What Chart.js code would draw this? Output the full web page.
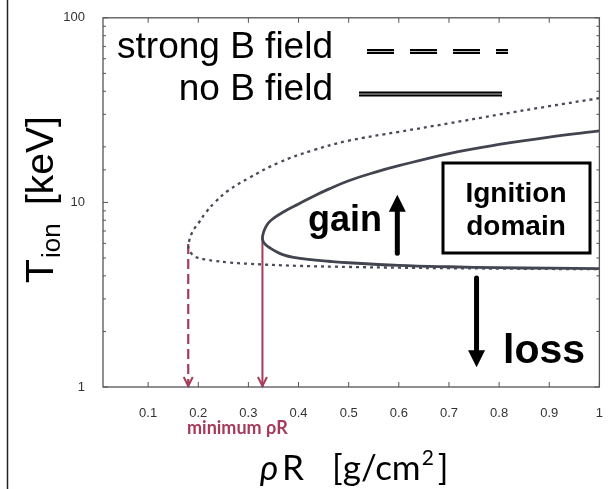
<!DOCTYPE html>
<html>
<head>
<meta charset="utf-8">
<script src="https://cdn.jsdelivr.net/npm/chart.js@4"></script>
<style>
  html, body { margin: 0; padding: 0; background: #fff; }
  canvas { display: block; }
</style>
</head>
<body>
<canvas id="chart" width="614" height="489"></canvas>
<script>
// x axis ticks (rhoR, g/cm2)
var xTicks = [0.1, 0.2, 0.3, 0.4, 0.5, 0.6, 0.7, 0.8, 0.9, 1]

// strong B field ignition boundary (dotted) - upper / lower branch
var strongUpperX = [0.18, 0.182, 0.186, 0.192, 0.20, 0.215, 0.233, 0.26, 0.30, 0.36, 0.43, 0.5, 0.6, 0.7, 0.8, 0.9, 1.0]
var strongUpperY = [5.78, 6.2, 6.7, 7.2, 7.7, 8.8, 10.0, 11.6, 13.5, 16.4, 19.2, 21.6, 24.1, 26.8, 29.9, 33.2, 36.7]
var strongLowerX = [0.18, 0.182, 0.186, 0.192, 0.20, 0.215, 0.233, 0.26, 0.30, 0.40, 0.5, 0.6, 0.7, 0.8, 0.9, 1.0]
var strongLowerY = [5.78, 5.5, 5.3, 5.12, 5.0, 4.9, 4.82, 4.73, 4.65, 4.53, 4.47, 4.43, 4.40, 4.38, 4.36, 4.35]

// no B field ignition boundary (solid)
var noBUpperX = [0.328, 0.330, 0.334, 0.340, 0.35, 0.36, 0.375, 0.40, 0.43, 0.46, 0.50, 0.55, 0.60, 0.70, 0.80, 0.90, 1.00]
var noBUpperY = [6.42, 6.85, 7.3, 7.75, 8.2, 8.55, 9.05, 9.8, 10.8, 11.8, 13.1, 14.5, 15.8, 18.4, 20.6, 22.6, 24.4]
var noBLowerX = [0.328, 0.330, 0.335, 0.343, 0.355, 0.37, 0.39, 0.42, 0.46, 0.50, 0.60, 0.70, 0.80, 0.90, 1.00]
var noBLowerY = [6.42, 6.1, 5.88, 5.67, 5.42, 5.2, 5.04, 4.91, 4.8, 4.71, 4.56, 4.48, 4.43, 4.40, 4.38]

// minimum rhoR markers (strong B, no B) and the nose temperatures
var minRhoR = [0.18, 0.328]
var noseT = [5.96, 6.42]

// gain / loss arrows
var gainArrowX = 0.597
var gainArrowY = [5.3, 11.0]
var lossArrowX = 0.755
var lossArrowY = [3.89, 1.28]

var red = '#a63a5a'
var curveColor = '#42454f'

function closedCurve(ux, uy, lx, ly) {
  var pts = []
  for (var i = ux.length - 1; i >= 0; i--) pts.push({ x: ux[i], y: uy[i] })
  for (var j = 1; j < lx.length; j++) pts.push({ x: lx[j], y: ly[j] })
  return pts
}

function line(ctx, x1, y1, x2, y2) {
  ctx.beginPath(); ctx.moveTo(x1, y1); ctx.lineTo(x2, y2); ctx.stroke()
}

var extras = {
  id: 'extras',
  afterDatasetsDraw: function (chart) {
    var c = chart.ctx, a = chart.chartArea, xs = chart.scales.x, ys = chart.scales.y
    c.save()

    // red open arrow heads at the bottom
    c.strokeStyle = red; c.lineWidth = 2; c.setLineDash([])
    minRhoR.forEach(function (v) {
      var px = xs.getPixelForValue(v), py = ys.getPixelForValue(1)
      c.beginPath(); c.moveTo(px - 4.5, py - 10); c.lineTo(px, py - 1); c.lineTo(px + 4.5, py - 10); c.stroke()
    })

    // black gain / loss arrows
    function bigArrow(xv, yv) {
      var px = xs.getPixelForValue(xv)
      var y0 = ys.getPixelForValue(yv[0]), y1 = ys.getPixelForValue(yv[1])
      var dir = y1 < y0 ? -1 : 1
      c.strokeStyle = '#000'; c.fillStyle = '#000'; c.lineWidth = 5; c.lineCap = 'round'
      line(c, px, y0, px, y1 - dir * 14)
      c.beginPath(); c.moveTo(px - 8.5, y1 - dir * 17); c.lineTo(px, y1); c.lineTo(px + 8.5, y1 - dir * 17); c.closePath(); c.fill()
      c.lineCap = 'butt'
    }
    bigArrow(gainArrowX, gainArrowY)
    bigArrow(lossArrowX, lossArrowY)

    // annotation texts
    c.fillStyle = '#000'; c.textBaseline = 'alphabetic'
    c.font = 'bold 36px "Liberation Sans", Arial, sans-serif'; c.textAlign = 'left'
    c.fillText('gain', 308, 231)
    c.font = 'bold 41px "Liberation Sans", Arial, sans-serif'
    c.fillText('loss', 503, 363)
    c.lineWidth = 3; c.strokeStyle = '#000'
    c.strokeRect(443, 163, 147, 90)
    c.font = 'bold 28px "Liberation Sans", Arial, sans-serif'; c.textAlign = 'center'
    c.fillText('Ignition', 516, 202)
    c.fillText('domain', 516, 235)

    // legend
    c.font = '37px "Liberation Sans", Arial, sans-serif'; c.textAlign = 'right'
    c.fillText('strong B field', 333, 58)
    c.fillText('no B field', 333, 100)
    c.lineWidth = 5; c.strokeStyle = '#000'; c.setLineDash([27, 16])
    line(c, 367, 51.5, 508, 51.5)
    c.lineWidth = 1; c.strokeStyle = 'rgba(255,255,255,0.75)'
    line(c, 367, 51.5, 508, 51.5)
    c.setLineDash([])
    c.lineWidth = 5; c.strokeStyle = '#000'
    line(c, 359, 94, 502, 94)
    c.lineWidth = 1; c.strokeStyle = 'rgba(255,255,255,0.75)'
    line(c, 359, 94, 502, 94)

    // frame and inward ticks
    c.strokeStyle = '#555'; c.lineWidth = 1.3
    c.strokeRect(a.left, a.top, a.right - a.left, a.bottom - a.top)
    c.lineWidth = 1
    xTicks.forEach(function (v) {
      var px = xs.getPixelForValue(v)
      line(c, px, a.bottom, px, a.bottom - 5)
      line(c, px, a.top, px, a.top + 5)
    })
    ys.ticks.forEach(function (t) {
      var py = ys.getPixelForValue(t.value)
      var l = [1, 10, 100].indexOf(t.value) >= 0 ? 5 : 3
      line(c, a.left, py, a.left + l, py)
      line(c, a.right, py, a.right - l, py)
    })

    // figure edge line on the left
    c.strokeStyle = '#222'; c.lineWidth = 1.5
    line(c, 7.5, 0, 7.5, 489)

    // y axis title: T_ion [keV]
    c.fillStyle = '#000'; c.textAlign = 'left'
    c.translate(53, 283); c.rotate(-Math.PI / 2)
    c.font = '39px "Liberation Sans", Arial, sans-serif'
    c.fillText('T', 0, 0)
    c.font = '26px "Liberation Sans", Arial, sans-serif'
    c.fillText('ion', 25, 7)
    c.font = '39px "Liberation Sans", Arial, sans-serif'
    c.fillText('[keV]', 78, 0)
    c.setTransform(1, 0, 0, 1, 0, 0)

    // x axis title: rhoR [g/cm2]
    c.font = 'italic 35px Lato, sans-serif'
    c.fillText('\u03c1', 260, 480)
    c.font = '35px Lato, sans-serif'
    c.fillText('R', 282, 480)
    c.fillText('[g/cm', 332, 480)
    var w = c.measureText('[g/cm').width
    c.font = '21px Lato, sans-serif'
    c.fillText('2', 332 + w + 1, 465)
    var w2 = c.measureText('2').width
    c.font = '35px Lato, sans-serif'
    c.fillText(']', 332 + w + w2 + 5, 480)

    // minimum rhoR label
    c.fillStyle = red; c.font = 'bold 18px Lato, sans-serif'
    c.fillText('minimum \u03c1R', 187, 434)

    c.restore()
  }
}

var ctx = document.getElementById('chart').getContext('2d')
var chart = new Chart(ctx, {
  type: 'scatter',
  data: {
    datasets: [
      {
        label: 'strong B field',
        data: closedCurve(strongUpperX, strongUpperY, strongLowerX, strongLowerY),
        showLine: true, borderColor: '#484b55', borderWidth: 2.3, borderDash: [3, 4],
        pointRadius: 0, tension: 0.4, fill: false,
      },
      {
        label: 'no B field',
        data: closedCurve(noBUpperX, noBUpperY, noBLowerX, noBLowerY),
        showLine: true, borderColor: curveColor, borderWidth: 2.8,
        pointRadius: 0, tension: 0.4, fill: false,
      },
      {
        label: 'min strong',
        data: [{ x: minRhoR[0], y: noseT[0] }, { x: minRhoR[0], y: 1 }],
        showLine: true, borderColor: red, borderWidth: 2.2, borderDash: [10, 5],
        pointRadius: 0,
      },
      {
        label: 'min none',
        data: [{ x: minRhoR[1], y: noseT[1] }, { x: minRhoR[1], y: 1 }],
        showLine: true, borderColor: red, borderWidth: 2,
        pointRadius: 0,
      },
    ],
  },
  options: {
    responsive: false,
    animation: false,
    layout: { padding: { top: 14, right: 5, left: 0, bottom: 0 } },
    plugins: { legend: { display: false }, tooltip: { enabled: false } },
    scales: {
      x: {
        type: 'linear', min: 0.01, max: 1,
        afterBuildTicks: function (s) { s.ticks = xTicks.map(function (v) { return { value: v } }) },
        afterFit: function (s) { s.height = 102 },
        grid: { display: false }, border: { display: false },
        ticks: {
          padding: 11, color: '#333', autoSkip: false, maxRotation: 0,
          font: { family: '"Liberation Sans", Arial, sans-serif', size: 13 },
          callback: function (v) { return String(v) },
        },
      },
      y: {
        type: 'logarithmic', min: 1, max: 100,
        afterFit: function (s) { s.width = 103 },
        grid: { display: false }, border: { display: false },
        ticks: {
          padding: 10, color: '#333', autoSkip: false,
          font: { family: '"Liberation Sans", Arial, sans-serif', size: 13 },
          callback: function (v) { return [1, 10, 100].indexOf(v) >= 0 ? String(v) : '' },
        },
      },
    },
  },
  plugins: [extras],
})
</script>
</body>
</html>
